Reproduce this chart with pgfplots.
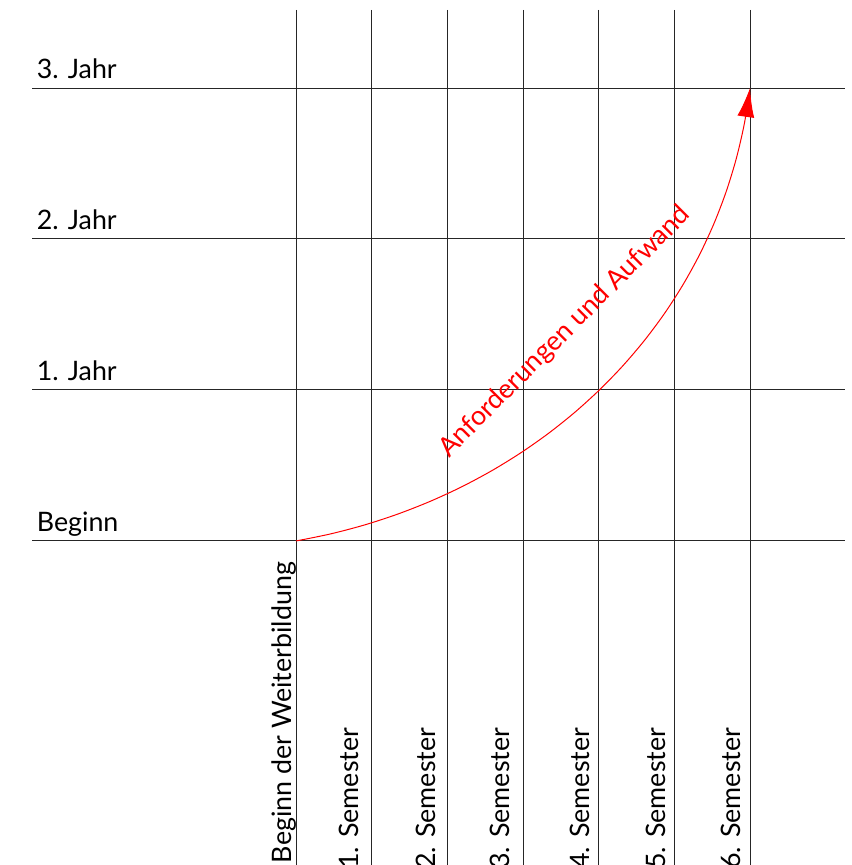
\documentclass[border=0pt]{standalone}
\usepackage{fontspec}
\setmainfont{Lato}
\usepackage{pgfplots}
\pgfplotsset{compat=1.18}
\usetikzlibrary{arrows.meta}
\begin{document}
\fontsize{13.4}{16}\selectfont
\begin{tikzpicture}
\useasboundingbox (0,0) rectangle (425.5pt,432.5pt);
\clip (0,0) rectangle (425.5pt,432.5pt);
\begin{axis}[
  at={(0,0)}, anchor=south west,
  scale only axis, width=425.5pt, height=432.5pt,
  xmin=-3.912, xmax=7.335, ymin=-2.146, ymax=3.583,
  hide axis, clip=false,
  every axis plot/.append style={line width=0.5pt},
]
% horizontal lines (years)
\addplot[black!85] coordinates {(-3.489,0) (7.256,0)};
\addplot[black!85] coordinates {(-3.489,1) (7.256,1)};
\addplot[black!85] coordinates {(-3.489,2) (7.256,2)};
\addplot[black!85] coordinates {(-3.489,3) (7.256,3)};
% vertical lines (semesters)
\addplot[black!85] coordinates {(0,3.517) (0,-2.3)};
\addplot[black!85] coordinates {(1,3.517) (1,-2.3)};
\addplot[black!85] coordinates {(2,3.517) (2,-2.3)};
\addplot[black!85] coordinates {(3,3.517) (3,-2.3)};
\addplot[black!85] coordinates {(4,3.517) (4,-2.3)};
\addplot[black!85] coordinates {(5,3.517) (5,-2.3)};
\addplot[black!85] coordinates {(6,3.517) (6,-2.3)};
% curve
\addplot[red, smooth, -{Latex[length=14.5pt,width=8.5pt]}] coordinates {
(0,0) (0.4594,0.0471) (0.9091,0.1067) (1.3472,0.1786) (1.7734,0.2625)
(2.1864,0.3579) (2.5849,0.4648) (2.9678,0.5829) (3.3338,0.7117)
(3.6819,0.8511) (4.0110,1.0009) (4.3199,1.1605) (4.6073,1.3299)
(4.8723,1.5085) (5.1136,1.6966) (5.3301,1.8933) (5.5206,2.0986)
(5.6840,2.3123) (5.8192,2.5339) (5.9249,2.7632) (6,3)};
% year labels
\node[anchor=base west, inner sep=0] at (axis cs:-3.43,3.064) {3. Jahr};
\node[anchor=base west, inner sep=0] at (axis cs:-3.43,2.064) {2. Jahr};
\node[anchor=base west, inner sep=0] at (axis cs:-3.43,1.064) {1. Jahr};
\node[anchor=base west, inner sep=0] at (axis cs:-3.43,0.064) {Beginn};
% semester labels
\node[anchor=base east, rotate=90, inner sep=0] at (axis cs:-0.057,-0.137) {Beginn der Weiterbildung};
\node[anchor=base east, rotate=90, inner sep=0] at (axis cs:0.823,-1.235) {1. Semester};
\node[anchor=base east, rotate=90, inner sep=0] at (axis cs:1.837,-1.235) {2. Semester};
\node[anchor=base east, rotate=90, inner sep=0] at (axis cs:2.828,-1.235) {3. Semester};
\node[anchor=base east, rotate=90, inner sep=0] at (axis cs:3.885,-1.235) {4. Semester};
\node[anchor=base east, rotate=90, inner sep=0] at (axis cs:4.877,-1.235) {5. Semester};
\node[anchor=base east, rotate=90, inner sep=0] at (axis cs:5.877,-1.235) {6. Semester};
% curve label
\node[red, rotate=45, inner sep=0] at (axis cs:3.555,1.384) {Anforderungen und Aufwand};
\end{axis}
\end{tikzpicture}
\end{document}
